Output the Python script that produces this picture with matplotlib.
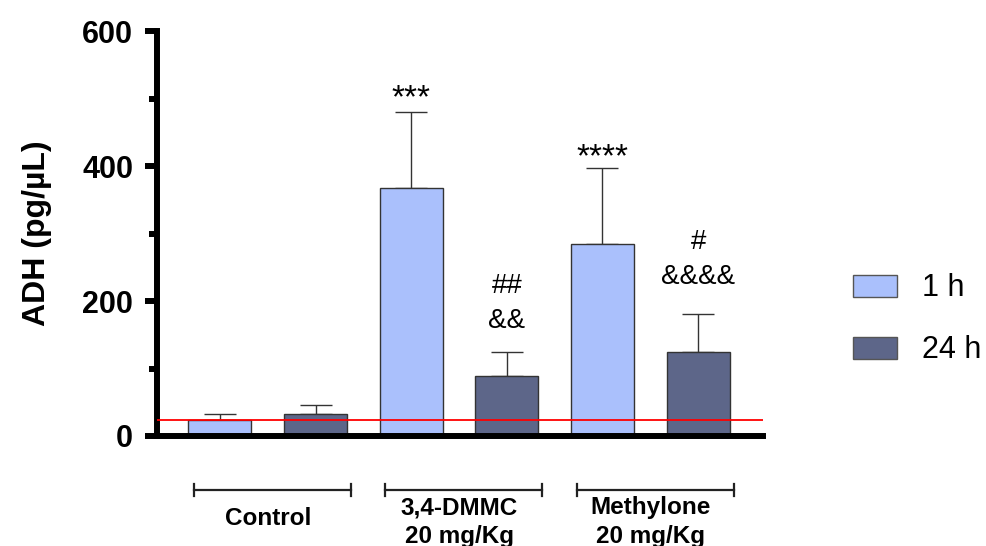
import numpy as np
import matplotlib.pyplot as plt
from matplotlib.patches import Patch

plt.rcParams['font.family'] = ['Liberation Sans', 'DejaVu Sans']

groups = ["Control", "3,4-DMMC\n20 mg/Kg", "Methylone\n20 mg/Kg"]
times = ["1 h", "24 h"]
mean_1h = [24, 367, 284]
err_1h = [9, 113, 113]
mean_24h = [33, 89, 124]
err_24h = [13, 35, 57]
control_level = 24
marks_1h = ["", "***", "****"]
marks_24h = ["", "##\n&&", "#\n&&&&"]

C1 = "#AAC0FC"
C24 = "#5D6689"

fig = plt.figure(figsize=(9.86, 5.46), dpi=100)
ax = fig.add_axes([0.159, 0.2015, 0.615, 0.7415])

pos = np.arange(len(groups)) * 2
w = 0.66
for i in range(len(groups)):
    ax.bar(pos[i], mean_1h[i], w, color=C1, edgecolor="#333333", lw=1.0, zorder=2)
    ax.errorbar(pos[i], mean_1h[i], yerr=[[0], [err_1h[i]]], color="#333333",
                lw=1.0, capsize=11.5, capthick=1.0, zorder=1)
    ax.bar(pos[i] + 1, mean_24h[i], w, color=C24, edgecolor="#333333", lw=1.0, zorder=2)
    ax.errorbar(pos[i] + 1, mean_24h[i], yerr=[[0], [err_24h[i]]], color="#333333",
                lw=1.0, capsize=11.5, capthick=1.0, zorder=1)

# significance marks above the error bars
ax.text(pos[1], 500, marks_1h[1], ha="center", va="center", fontsize=24)
ax.text(pos[2], 412, marks_1h[2], ha="center", va="center", fontsize=24)
ax.text(pos[1] + 1, 196, marks_24h[1], ha="center", va="center", fontsize=20,
        linespacing=1.45)
ax.text(pos[2] + 1, 262, marks_24h[2], ha="center", va="center", fontsize=20,
        linespacing=1.45)

ax.axhline(control_level, color="red", lw=1.3, zorder=3)

ax.set_xlim(-0.66, 5.68)
ax.set_ylim(0, 600)
ax.set_yticks([0, 200, 400, 600])
ax.set_yticks([100, 300, 500], minor=True)
ax.set_xticks([])
for s in ["top", "right"]:
    ax.spines[s].set_visible(False)
for s in ["left", "bottom"]:
    ax.spines[s].set_linewidth(4.3)
ax.tick_params(axis="y", which="major", length=9, width=4.3, labelsize=22, pad=8)
ax.tick_params(axis="y", which="minor", length=6, width=4.3)
for t in ax.get_yticklabels():
    t.set_fontweight("bold")
ax.set_ylabel("ADH (pg/µL)", fontsize=23, fontweight="bold", labelpad=22)

# group brackets and names under the axis
tr = ax.get_xaxis_transform()
for i, g in enumerate(groups):
    x0, x1 = pos[i] - 0.27, pos[i] + 1.37
    ax.plot([x0, x1], [-0.133, -0.133], color="#222222", lw=1.6,
            transform=tr, clip_on=False)
    for xx in (x0, x1):
        ax.plot([xx, xx], [-0.118, -0.148], color="#222222", lw=1.6,
                transform=tr, clip_on=False)
    ax.text(pos[i] + 0.5, -0.205 if i == 0 else -0.212, g, transform=tr,
            ha="center", va="center", fontsize=17.5, fontweight="bold",
            linespacing=1.3)

handles = [Patch(facecolor=C1, edgecolor="#555555"),
           Patch(facecolor=C24, edgecolor="#555555")]
fig.legend(handles, times, loc="center left", bbox_to_anchor=(0.865, 0.415),
           frameon=False, fontsize=22, handlelength=1.45, handleheight=0.75,
           labelspacing=1.05, handletextpad=0.8, borderpad=0, borderaxespad=0)

fig.savefig("out.png", dpi=100)
